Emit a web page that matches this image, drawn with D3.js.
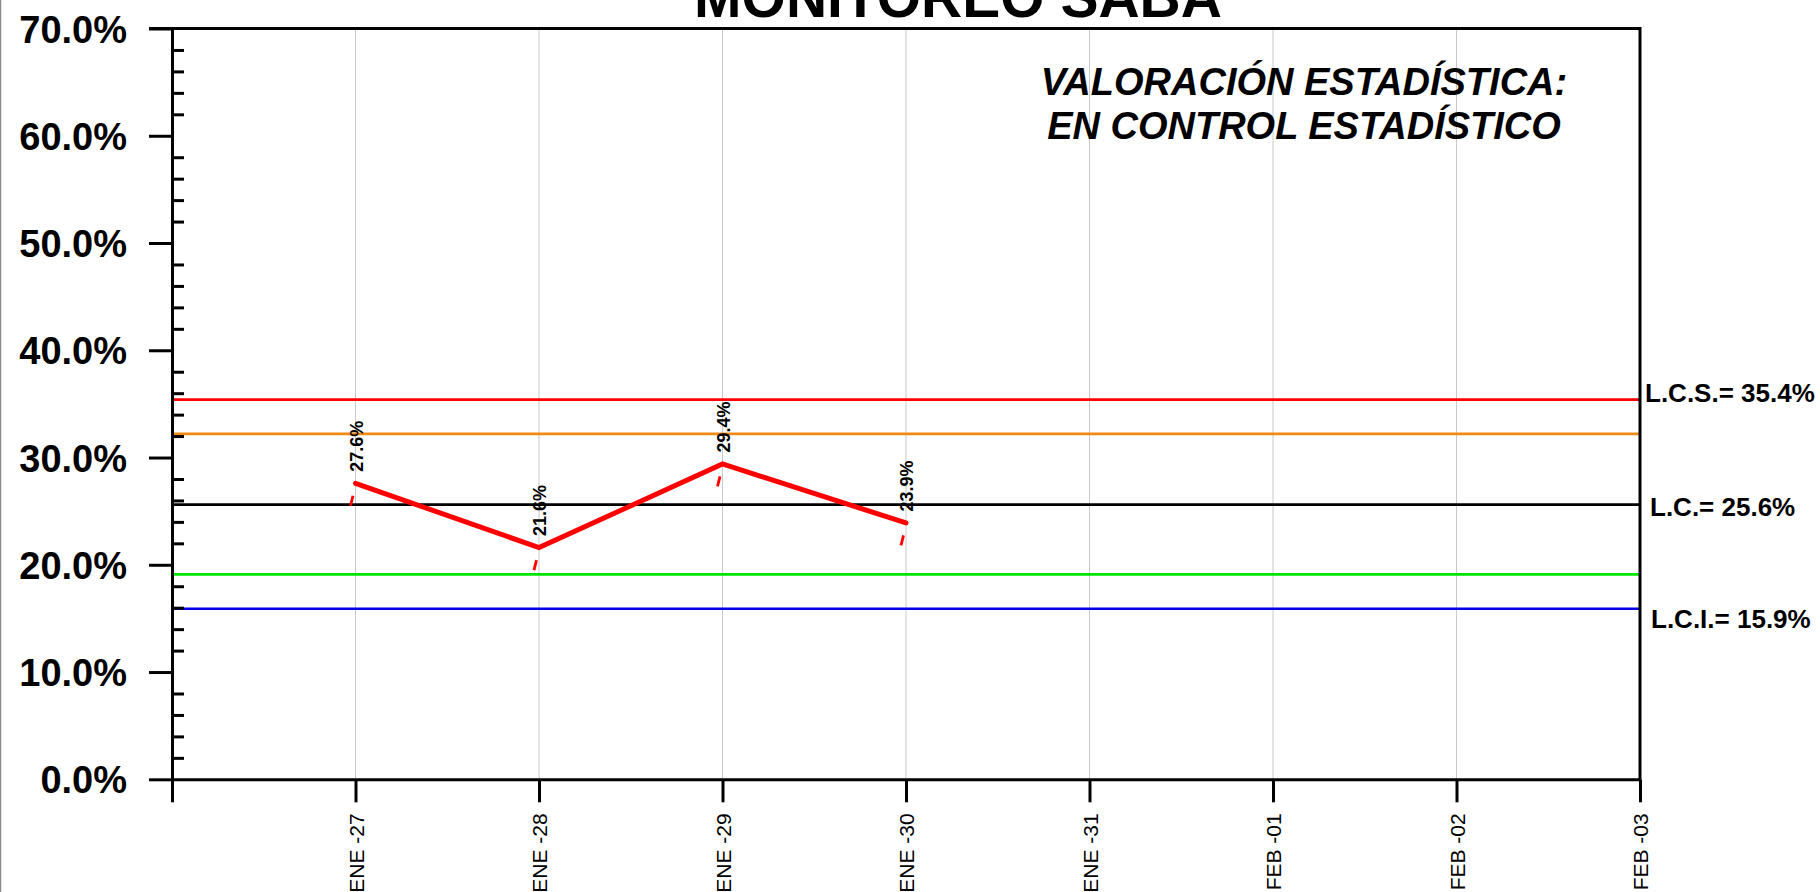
<!DOCTYPE html>
<html>
<head>
<meta charset="utf-8">
<script src="https://cdn.jsdelivr.net/npm/d3@7"></script>
<style>
  html, body { margin: 0; padding: 0; background: #fff; }
  svg { display: block; font-family: "Liberation Sans", Arial, sans-serif; }
</style>
</head>
<body>
<div id="chart"></div>
<script>
// ------------------------------------------
// Data
// ------------------------------------------
const xLabels = ["", "ENE -27", "ENE -28", "ENE -29", "ENE -30", "ENE -31", "FEB -01", "FEB -02", "FEB -03"];
const pointIndex = [1, 2, 3, 4];
const pointValues = [27.6, 21.6, 29.4, 23.9];

const limitValues = [35.4, 32.2, 25.6, 19.1, 15.9];
const limitLabels = ["L.C.S.= 35.4%", "", "L.C.= 25.6%", "", "L.C.I.= 15.9%"];

const yMajor = [0, 10, 20, 30, 40, 50, 60, 70];
const yMinor = d3.range(0, 71, 2).filter(v => v % 10 !== 0);

const title = "MONITOREO SABA";
const noteLines = ["VALORACIÓN ESTADÍSTICA:", "EN CONTROL ESTADÍSTICO"];

// ------------------------------------------
// Layout / style
// ------------------------------------------
const W = 1820, H = 892;
const plot = { left: 172, right: 1640, top: 28.5, bottom: 779.3 };
const limitColors = ["#ff0000", "#f28a14", "#000000", "#00e600", "#0000e6"];
const limitLabelShift = [[5, 2], [0, 0], [10, 11], [0, 0], [11, 19]];

const svg = d3.select("#chart").append("svg")
  .attr("width", W)
  .attr("height", H);

// thin border on the left edge of the picture
svg.append("line")
  .attr("x1", 0.5).attr("x2", 0.5).attr("y1", 0).attr("y2", H)
  .attr("stroke", "#8a8a8a").attr("stroke-width", 1.5);

const x = d3.scaleLinear().domain([0, xLabels.length - 1]).range([plot.left, plot.right]);
const y = d3.scaleLinear().domain([0, 70]).range([plot.bottom, plot.top]);

// vertical gray grid
svg.append("g")
  .selectAll("line")
  .data(d3.range(1, xLabels.length - 1))
  .join("line")
  .attr("x1", d => x(d)).attr("x2", d => x(d))
  .attr("y1", plot.top).attr("y2", plot.bottom)
  .attr("stroke", "#c8c8c8").attr("stroke-width", 1);

// control limit lines
svg.append("g")
  .selectAll("line")
  .data(limitValues)
  .join("line")
  .attr("x1", plot.left).attr("x2", plot.right)
  .attr("y1", d => y(d)).attr("y2", d => y(d))
  .attr("stroke", (d, i) => limitColors[i])
  .attr("stroke-width", 2.7);

// limit labels on the right
svg.append("g")
  .selectAll("text")
  .data(limitValues)
  .join("text")
  .attr("x", (d, i) => plot.right + limitLabelShift[i][0])
  .attr("y", (d, i) => y(d) + limitLabelShift[i][1])
  .attr("font-size", 26)
  .attr("font-weight", "bold")
  .attr("fill", "#000")
  .text((d, i) => limitLabels[i]);

// y axis: major ticks outside with labels
const yAxis = svg.append("g")
  .attr("transform", `translate(${plot.left},0)`)
  .call(d3.axisLeft(y)
    .tickValues(yMajor)
    .tickSize(23)
    .tickSizeOuter(0)
    .tickPadding(22)
    .tickFormat(d => d.toFixed(1) + "%"));
yAxis.select(".domain").attr("stroke-width", 3);
yAxis.selectAll(".tick line").attr("stroke-width", 3);
yAxis.selectAll(".tick text")
  .attr("font-size", 38)
  .attr("font-weight", "bold")
  .attr("font-family", "'Liberation Sans', Arial, sans-serif")
  .attr("dy", "0.36em");

// y axis: minor ticks inside
const yMinorAxis = svg.append("g")
  .attr("transform", `translate(${plot.left},0)`)
  .call(d3.axisRight(y).tickValues(yMinor).tickSize(12).tickSizeOuter(0).tickFormat(""));
yMinorAxis.select(".domain").remove();
yMinorAxis.selectAll(".tick line").attr("stroke-width", 3);

// x axis
const xAxis = svg.append("g")
  .attr("transform", `translate(0,${plot.bottom})`)
  .call(d3.axisBottom(x)
    .tickValues(d3.range(0, xLabels.length))
    .tickSize(23)
    .tickSizeOuter(0)
    .tickFormat(d => xLabels[d]));
xAxis.select(".domain").attr("stroke-width", 3);
xAxis.selectAll(".tick line").attr("stroke-width", 3);
xAxis.selectAll(".tick text")
  .attr("font-size", 21)
  .attr("font-family", "'Liberation Sans', Arial, sans-serif")
  .attr("text-anchor", "end")
  .attr("transform", "rotate(-90)")
  .attr("x", -34)
  .attr("y", 0)
  .attr("dy", "0.36em");

// top and right frame
svg.append("path")
  .attr("d", `M${plot.left - 23},${plot.top}H${plot.right}V${plot.bottom}`)
  .attr("fill", "none")
  .attr("stroke", "#000")
  .attr("stroke-width", 3);

// data series
const pts = pointIndex.map((d, i) => ({ i: d, v: pointValues[i] }));

svg.append("path")
  .datum(pts)
  .attr("d", d3.line().x(d => x(d.i)).y(d => y(d.v)))
  .attr("fill", "none")
  .attr("stroke", "#ff0000")
  .attr("stroke-width", 5)
  .attr("stroke-linecap", "round");

// small red marks under each point
svg.append("g")
  .selectAll("line")
  .data(pts)
  .join("line")
  .attr("x1", d => x(d.i) - 2.5).attr("y1", d => y(d.v) + 12.5)
  .attr("x2", d => x(d.i) - 5).attr("y2", d => y(d.v) + 22.5)
  .attr("stroke", "#ff0000")
  .attr("stroke-width", 2.8);

// value labels
svg.append("g")
  .selectAll("text")
  .data(pts)
  .join("text")
  .attr("transform", d => `translate(${x(d.i) + 7},${y(d.v) - 11.5}) rotate(-90)`)
  .attr("font-size", 18)
  .attr("font-weight", "bold")
  .attr("fill", "#000")
  .text(d => d.v.toFixed(1) + "%");

// title
svg.append("text")
  .attr("x", 958)
  .attr("y", 17)
  .attr("text-anchor", "middle")
  .attr("font-size", 57)
  .attr("font-weight", "bold")
  .text(title);

// statistical note
svg.append("g")
  .selectAll("text")
  .data(noteLines)
  .join("text")
  .attr("x", 1304)
  .attr("y", (d, i) => 95 + i * 44)
  .attr("text-anchor", "middle")
  .attr("font-size", 38)
  .attr("font-weight", "bold")
  .attr("font-style", "italic")
  .text(d => d);
</script>
</body>
</html>
